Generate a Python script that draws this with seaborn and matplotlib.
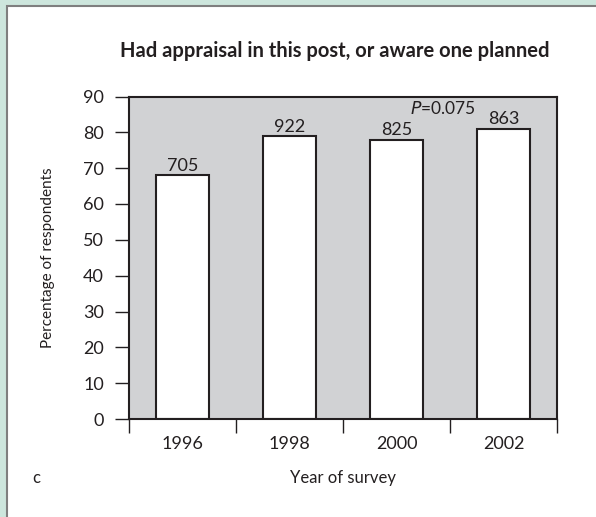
import matplotlib
matplotlib.use("Agg")
import matplotlib.pyplot as plt
from matplotlib.patches import Rectangle
import seaborn as sns
import pandas as pd

# Survey data
years = ["1996", "1998", "2000", "2002"]
percentages = [68, 79, 78, 81]
respondents = ["705", "922", "825", "863"]
y_ticks = [0, 10, 20, 30, 40, 50, 60, 70, 80, 90]

df = pd.DataFrame({"year": years, "pct": percentages})

sns.set_theme(style="white")
plt.rcParams["font.family"] = ["Lato", "DejaVu Sans"]

fig = plt.figure(figsize=(5.96, 5.17), dpi=100, facecolor="#cde6dd")
# white panel with a thin grey frame
fig.patches.append(Rectangle((7 / 596, -0.01), 1, 1 - 6 / 517 + 0.01, transform=fig.transFigure,
                             facecolor="white", edgecolor="#7f7f7f", linewidth=1.5, zorder=-10))

ax = fig.add_axes([129 / 596, 1 - 419 / 517, 428 / 596, (419 - 96.5) / 517])
ax.set_zorder(5)
ax.set_facecolor("#d1d2d4")

sns.barplot(data=df, x="year", y="pct", color="white", edgecolor="#231f20",
            linewidth=1.5, width=0.5, saturation=1, ax=ax)

ax.set_xlim(-0.5, 3.5)
ax.set_ylim(0, 90)
ax.set_yticks(y_ticks)
ax.tick_params(axis="y", direction="out", length=10, width=1, color="#231f20",
               labelsize=13, labelcolor="#231f20", pad=8, left=True)
ax.set_xticks(range(len(years)))
ax.set_xticklabels(years)
ax.set_xticks([-0.5, 0.5, 1.5, 2.5, 3.5], minor=True)
ax.tick_params(axis="x", which="major", length=0, labelsize=13, labelcolor="#231f20", pad=12)
ax.tick_params(axis="x", which="minor", direction="out", length=10, width=1,
               color="#231f20", bottom=True)

for side in ["left", "bottom", "top", "right"]:
    ax.spines[side].set_visible(True)
    ax.spines[side].set_color("#231f20")
    ax.spines[side].set_linewidth(1.5)

ax.bar_label(ax.containers[0], labels=respondents, padding=1, fontsize=13, color="#231f20")

ax.text(2.43, 86.6, "$\\it{P}$=0.075", ha="center", va="center", fontsize=12.5, color="#231f20")

ax.set_xlabel("Year of survey", fontsize=12, color="#231f20", labelpad=13)
ax.set_ylabel("Percentage of respondents", fontsize=11, color="#231f20", labelpad=20)

fig.text(335 / 596, 1 - 51 / 517, "Had appraisal in this post, or aware one planned",
         ha="center", va="center", fontsize=14.5, fontweight="bold", color="#231f20")
fig.text(32 / 596, 1 - 478 / 517, "c", ha="left", va="center", fontsize=12, color="#231f20")

fig.savefig("out.png", dpi=100, facecolor=fig.get_facecolor())
